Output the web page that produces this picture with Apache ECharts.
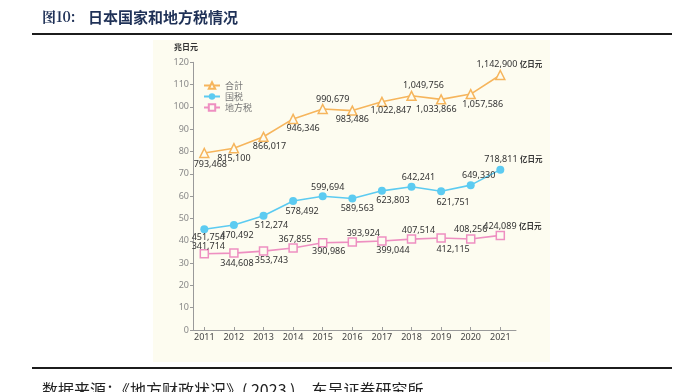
<!DOCTYPE html>
<html><head><meta charset="utf-8">
<script src="https://cdn.jsdelivr.net/npm/echarts@6/dist/echarts.min.js"></script>
<style>html,body{margin:0;padding:0;background:#fff}#c{width:685px;height:392px}</style>
</head><body><div id="c"></div>
<script>
const years = [2011,2012,2013,2014,2015,2016,2017,2018,2019,2020,2021];
const totalTax = [793468,815100,866017,946346,990679,983486,1022847,1049756,1033866,1057586,1142900];
const nationalTax = [451754,470492,512274,578492,599694,589563,623803,642241,621751,649330,718811];
const localTax = [341714,344608,353743,367855,390986,393924,399044,407514,412115,408256,424089];
const seriesNames = ['合計','国税','地方税'];
const yTicks = [0,10,20,30,40,50,60,70,80,90,100,110,120];

// label offsets (style only)
const offTotal = [[6,11],[0,10],[6,10],[10,10],[10,-10],[0,9],[9,9],[12,-10],[-5,10],[12,10],[9,-11]];
const offNat = [[4,8],[3,10],[8,10],[9,10],[5,-9],[5,10],[11,10],[7,-9],[12,11],[8,-10],[13,-10]];
const offLoc = [[4,-7],[3,10],[8,9],[2,-9],[6,9],[11,-9],[11,9],[7,-9],[12,11],[0,-9],[12,-9]];

const fmt = v => v.toLocaleString('en-US');
function build(vals, offs){
  return vals.map((v,i)=>({
    value:[years[i], v/10000],
    raw:v,
    label:{offset:offs[i]}
  }));
}
const labelBase = {
  show:true, position:'inside', fontSize:9, lineHeight:9, color:'#333', fontFamily:'Noto Sans',
  formatter: p => {
    const s = fmt(p.data.raw);
    return p.dataIndex === years.length-1 ? s + ' {u|亿日元}' : s;
  },
  rich:{u:{fontSize:7.5, fontWeight:'bold', color:'#333', fontFamily:'Noto Sans CJK SC'}}
};

const chart = echarts.init(document.getElementById('c'), null, {renderer:'canvas'});
chart.setOption({
  animation:false,
  backgroundColor:'#ffffff',
  graphic:[
    {type:'rect', z:-10, shape:{x:153,y:40,width:397,height:322}, style:{fill:'#fdfcf0'}},
    {type:'rect', shape:{x:32,y:33,width:640,height:2}, style:{fill:'#1c1c1c'}},
    {type:'rect', shape:{x:32,y:367,width:640,height:2}, style:{fill:'#1c1c1c'}},
    {type:'text', x:42, y:17, style:{text:'图10:', font:'bold 14px "Noto Serif CJK SC","Noto Sans CJK SC"', fill:'#1f3157', verticalAlign:'middle'}},
    {type:'text', x:88, y:17, style:{text:'日本国家和地方税情况', font:'bold 15px "Noto Sans CJK SC"', fill:'#1f3157', verticalAlign:'middle'}},
    {type:'text', x:42, y:390, style:{text:'数据来源：《地方财政状况》( 2023 )，东吴证券研究所', font:'16px "Noto Sans CJK SC"', fill:'#222', verticalAlign:'middle'}},
    {type:'text', x:186, y:47, style:{text:'兆日元', font:'bold 8px "Noto Sans CJK SC"', fill:'#333', align:'center', verticalAlign:'middle'}}
  ],
  legend:{
    orient:'vertical', left:203, top:81, padding:0, itemGap:2, itemWidth:16, itemHeight:8,
    textStyle:{fontSize:9, lineHeight:8, color:'#777', fontFamily:'Noto Sans CJK SC', padding:[0,0,0,0]},
    data:seriesNames
  },
  grid:{left:193, right:169, top:62.3, bottom:62, containLabel:false},
  xAxis:{
    type:'value', min:2010.618, max:2021.53,
    axisLine:{lineStyle:{color:'#9a9a9a', width:1}},
    axisTick:{show:true, inside:true, length:3, customValues:years, lineStyle:{color:'#9a9a9a'}},
    axisLabel:{customValues:years, margin:3, fontSize:9, color:'#444', fontFamily:'Noto Sans', formatter:v=>String(v)},
    splitLine:{show:false}
  },
  yAxis:{
    type:'value', min:0, max:120, interval:10,
    axisLine:{show:true, lineStyle:{color:'#9a9a9a', width:1}},
    axisTick:{show:true, length:3, lineStyle:{color:'#9a9a9a'}},
    axisLabel:{margin:4, fontSize:9, color:'#888', fontFamily:'Noto Sans', customValues:yTicks},
    splitLine:{show:false}
  },
  series:[
    {name:seriesNames[0], type:'line', data:build(totalTax, offTotal), symbol:'triangle', symbolSize:9,
     itemStyle:{color:'#fdfcf0', borderColor:'#f6b55c', borderWidth:1.5},
     lineStyle:{color:'#f6b55c', width:1.6}, label:labelBase, z:3},
    {name:seriesNames[1], type:'line', data:build(nationalTax, offNat), symbol:'circle', symbolSize:8,
     itemStyle:{color:'#5ccbf1', borderColor:'#5ccbf1', borderWidth:0},
     lineStyle:{color:'#5ccbf1', width:1.6}, label:labelBase, z:3},
    {name:seriesNames[2], type:'line', data:build(localTax, offLoc), symbol:'rect', symbolSize:8,
     itemStyle:{color:'#fdfcf0', borderColor:'#ee8fc1', borderWidth:1.5},
     lineStyle:{color:'#ee8fc1', width:1.6}, label:labelBase, z:3}
  ]
});
</script></body></html>
